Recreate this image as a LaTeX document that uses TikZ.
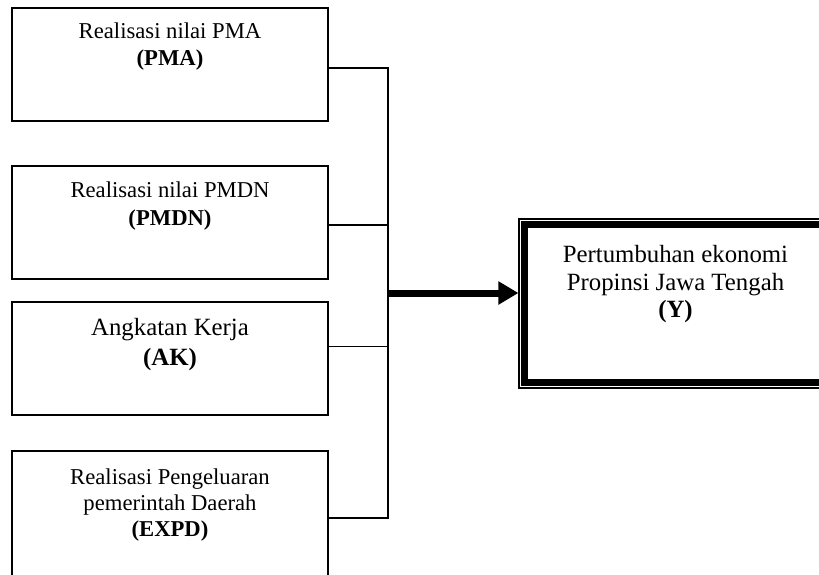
\documentclass[tikz,border=0pt]{standalone}
\usepackage{fontspec}
\setmainfont{Liberation Serif}
\usetikzlibrary{arrows.meta}

\begin{document}
\begin{tikzpicture}[x=0.75pt, y=-0.75pt,
    box/.style={draw=black, line width=1.1pt, minimum width=237pt, minimum height=84.75pt, inner sep=0pt},
    lbl/.style={align=center, inner sep=0pt, font=\fontsize{17}{20.5}\selectfont},
    biglbl/.style={align=center, inner sep=0pt, font=\fontsize{18.6}{22.5}\selectfont},
    wire/.style={draw=black, line width=1.1pt},
    fat/.style={line width=5.25pt, -{Triangle[length=15pt,width=16.5pt]}}]
    \clip (0,0) rectangle (819,575);

    \node[box] (pma) at (170,64.5) {};
    \node[box] (pmdn) at (170,222.5) {};
    \node[box] (ak) at (170,358.5) {};
    \node[box, minimum height=100.5pt] (expd) at (170,518) {};
    \node[draw=black, line width=0.8pt, minimum width=234.75pt, minimum height=126.75pt, inner sep=0pt] (y) at (675.5,303.5) {};
    \draw[line width=5.25pt] ([shift={(6.5,6.5)}]y.north west) rectangle ([shift={(-6.5,-6.5)}]y.south east);

    % base = baseline of the last line
    \node[lbl, anchor=base] (pmatxt) at ([yshift=-44pt]pma.north) {Realisasi nilai PMA\\\textbf{(PMA)}};
    \node[lbl, anchor=base] (pmdntxt) at ([yshift=-45pt]pmdn.north) {Realisasi nilai PMDN\\\textbf{(PMDN)}};
    \node[biglbl, anchor=base] (aktxt) at ([yshift=-48pt]ak.north) {Angkatan Kerja\\\textbf{(AK)}};
    \node[lbl, font=\fontsize{17}{19.5}\selectfont, anchor=base] (expdtxt) at ([yshift=-64.3pt]expd.north) {Realisasi Pengeluaran\\pemerintah Daerah\\\textbf{(EXPD)}};
    \node[biglbl, font=\fontsize{18.6}{20.6}\selectfont, anchor=base] (ytxt) at ([yshift=-74.3pt]y.north) {Pertumbuhan ekonomi\\Propinsi Jawa Tengah\\\textbf{(Y)}};

    \coordinate (bus) at (388,518);
    \draw[wire] ([yshift=-2.6pt]pma.east) -| (bus) -- (expd.east);
    \draw[wire] ([yshift=-1.9pt]pmdn.east) -- ++(60,0);
    \draw[wire] ([yshift=9pt]ak.east) -- ++(60,0);
    \coordinate (join) at (388,293);
    \draw[fat] (join) -- (join -| y.west);
\end{tikzpicture}
\end{document}
